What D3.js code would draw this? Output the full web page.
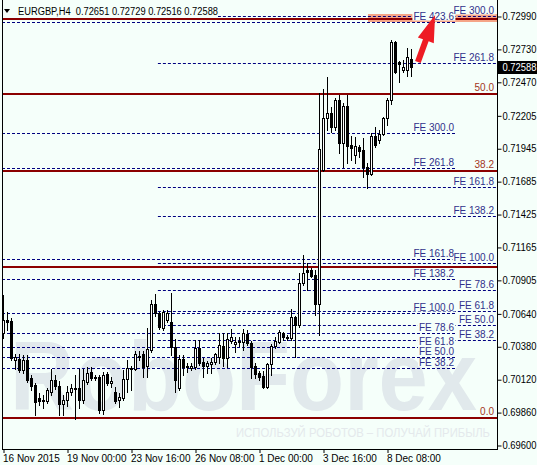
<!DOCTYPE html>
<html><head><meta charset="utf-8">
<script src="https://cdn.jsdelivr.net/npm/d3@7"></script>
<style>
html,body{margin:0;padding:0;background:#f5fffa;}
svg{display:block;}
text{font-family:"Liberation Sans",Arial,sans-serif;}
</style></head><body>
<svg id="c" width="537" height="465"></svg>
<script>
// ---------- data ----------
const symbol = "EURGBP,H4";
const lastOHLC = [0.72651, 0.72729, 0.72516, 0.72588];

const open = [0.70485,0.70588,0.70580,0.70272,0.70280,0.70193,0.70272,0.70129,0.70074,0.69971,
0.69948,0.69948,0.70019,0.70114,0.70066,0.69924,0.69956,0.70019,0.70050,0.70050,
0.69956,0.70098,0.70177,0.70137,0.70137,0.69877,0.70161,0.70090,0.70019,0.69956,
0.69971,0.70122,0.70209,0.70201,0.70303,0.70319,0.70224,0.70351,0.70714,0.70643,
0.70525,0.70588,0.70572,0.70374,0.70050,0.70280,0.70224,0.70209,0.70216,0.70367,
0.70256,0.70224,0.70240,0.70256,0.70295,0.70382,0.70288,0.70422,0.70398,0.70422,
0.70414,0.70477,0.70406,0.70224,0.70169,0.70145,0.70058,0.70240,0.70382,0.70414,
0.70485,0.70453,0.70446,0.70612,0.70548,0.70880,0.70983,0.70983,0.70943,0.70714,
0.71773,0.72184,0.72224,0.72113,0.72326,0.71986,0.72279,0.71971,0.71892,0.71955,
0.71931,0.71797,0.71742,0.72042,0.72010,0.72058,0.72184,0.72326,0.72785,0.72627,
0.72563,0.72563,0.72651];
const high = [0.70785,0.70651,0.70604,0.70319,0.70319,0.70311,0.70311,0.70153,0.70090,0.70011,
0.69995,0.70050,0.70201,0.70153,0.70106,0.69995,0.70066,0.70082,0.70153,0.70201,
0.70201,0.70216,0.70216,0.70153,0.70153,0.70177,0.70177,0.70137,0.70058,0.70011,
0.70193,0.70272,0.70224,0.70343,0.70343,0.70343,0.70525,0.70746,0.70793,0.70651,
0.70667,0.70667,0.70801,0.70438,0.70311,0.70311,0.70248,0.70248,0.70430,0.70430,
0.70288,0.70264,0.70288,0.70327,0.70485,0.70485,0.70485,0.70517,0.70453,0.70453,
0.70517,0.70509,0.70422,0.70248,0.70185,0.70185,0.70248,0.70398,0.70453,0.70509,
0.70493,0.70469,0.70675,0.70619,0.70959,0.71101,0.71038,0.70999,0.70983,0.72382,
0.72413,0.72508,0.72271,0.72342,0.72366,0.72303,0.72366,0.72042,0.72034,0.71971,
0.72026,0.71828,0.72065,0.72113,0.72089,0.72192,0.72342,0.72800,0.72792,0.72634,
0.72642,0.72737,0.72729];
const low = [0.70446,0.70509,0.70272,0.70201,0.70177,0.70169,0.70098,0.70035,0.69837,0.69916,
0.69892,0.69932,0.69995,0.70043,0.69837,0.69837,0.69908,0.69995,0.69806,0.69892,
0.69932,0.70082,0.70114,0.70114,0.69853,0.69845,0.70074,0.70058,0.69932,0.69900,
0.69956,0.70019,0.70035,0.70193,0.70272,0.70137,0.70137,0.70335,0.70619,0.70517,
0.70509,0.70572,0.70311,0.70019,0.70035,0.70153,0.70177,0.70193,0.70201,0.70232,
0.70137,0.70169,0.70169,0.70240,0.70248,0.70224,0.70216,0.70406,0.70335,0.70382,
0.70351,0.70390,0.70129,0.70129,0.70114,0.70050,0.70050,0.70153,0.70367,0.70406,
0.70430,0.70430,0.70430,0.70295,0.70532,0.70864,0.70825,0.70928,0.70627,0.70469,
0.71765,0.72089,0.72073,0.72089,0.71907,0.71797,0.71828,0.71852,0.71828,0.71876,
0.71718,0.71631,0.71734,0.71955,0.71986,0.72050,0.72129,0.72295,0.72540,0.72468,
0.72548,0.72516,0.72516];
const close = [0.70588,0.70572,0.70288,0.70295,0.70193,0.70272,0.70114,0.70066,0.69940,0.69948,
0.69956,0.70035,0.70114,0.70066,0.69924,0.69956,0.70019,0.70050,0.70043,0.69956,
0.70114,0.70169,0.70129,0.70129,0.69877,0.70153,0.70090,0.70106,0.69948,0.69979,
0.70122,0.70209,0.70201,0.70319,0.70295,0.70216,0.70359,0.70714,0.70643,0.70532,
0.70651,0.70643,0.70374,0.70114,0.70280,0.70216,0.70216,0.70224,0.70367,0.70248,
0.70224,0.70248,0.70256,0.70319,0.70390,0.70288,0.70438,0.70453,0.70414,0.70414,
0.70485,0.70406,0.70216,0.70161,0.70137,0.70058,0.70240,0.70382,0.70422,0.70493,
0.70453,0.70446,0.70612,0.70548,0.70880,0.70959,0.70967,0.70935,0.70714,0.71939,
0.72184,0.72224,0.72113,0.72326,0.71986,0.72279,0.71963,0.71947,0.71963,0.71923,
0.71797,0.71742,0.72042,0.71971,0.72058,0.72184,0.72326,0.72785,0.72548,0.72611,
0.72587,0.72666,0.72588];

const yTicks = [0.72990,0.72730,0.72470,0.72205,0.71945,0.71685,0.71425,0.71165,0.70905,0.70640,0.70380,0.70120,0.69860,0.69600];
const xTickBars = [0,16,32,48,64,80,96];
const xTickLabels = ["16 Nov 2015","19 Nov 00:00","23 Nov 16:00","26 Nov 08:00","1 Dec 00:00","3 Dec 16:00","8 Dec 08:00"];

// Fibonacci retracement (red) levels
const fiboLevels = ["0.0","23.6","38.2","50.0","61.8"];
const fiboPrices = [0.69813,0.71010,0.71765,0.72370,0.72966];
const fiboLabelShown = [true,false,true,true,false];

// Fibonacci expansion, first (older) set
const fe1Levels = ["38.2","50.0","61.8","78.6","100.0","138.2","161.8","261.8","300.0","423.6"];
const fe1Prices = [0.70209,0.70295,0.70374,0.70485,0.70643,0.70912,0.71070,0.71789,0.72065,0.72943];
// Fibonacci expansion, second set
const fe2Levels = ["38.2","50.0","61.8","78.6","100.0","138.2","161.8","261.8","300.0"];
const fe2Prices = [0.70430,0.70548,0.70659,0.70825,0.71038,0.71410,0.71639,0.72619,0.72990];

// highlighted target zone and arrow annotation (bar index, price)
const zone = {fromBar: 91.1, top: 0.73006, bottom: 0.72943};
const arrow = {fromBar: 103.6, fromPrice: 0.72627, toBar: 107.9, toPrice: 0.72998};

// ---------- drawing ----------
const W = 537, H = 465;
const L = 2, R = 497, B = 449;
const N = open.length;
const BG = "#f5fffa";
const FONT = '"Liberation Sans",Arial,sans-serif';
const svg = d3.select("#c");

const x = d3.scaleLinear().domain([0, 1]).range([3.5, 7.5]);
const y = d3.scaleLinear().domain([0.69600, 0.72990]).range([445, 16]);
const py = v => Math.round(y(v));

svg.append("rect").attr("width", W).attr("height", H).attr("fill", BG);

svg.append("defs").append("clipPath").attr("id", "plot")
  .append("rect").attr("x", L).attr("y", 0).attr("width", R - L).attr("height", B);

const plot = svg.append("g").attr("clip-path", "url(#plot)");

// watermark
plot.append("text").attr("x", 10).attr("y", 410)
  .attr("font-size", 98).attr("font-weight", "bold")
  .attr("textLength", 467).attr("lengthAdjust", "spacingAndGlyphs")
  .attr("fill", "#e1e9ec").text("RoboForex");
plot.append("text").attr("x", 236).attr("y", 437)
  .attr("font-size", 12).attr("textLength", 254).attr("lengthAdjust", "spacingAndGlyphs")
  .attr("fill", "#e4e9ec").text("ИСПОЛЬЗУЙ РОБОТОВ – ПОЛУЧАЙ ПРИБЫЛЬ");

// highlighted zone
plot.append("rect")
  .attr("x", Math.round(x(zone.fromBar))).attr("y", py(zone.top))
  .attr("width", R - Math.round(x(zone.fromBar))).attr("height", py(zone.bottom) - py(zone.top))
  .attr("fill", "#f5a587");

// red retracement lines
plot.selectAll("line.fibo").data(fiboPrices).join("line")
  .attr("x1", L).attr("x2", R)
  .attr("y1", d => py(d)).attr("y2", d => py(d))
  .attr("stroke", "#8b0000").attr("stroke-width", 2);

// FE dashed lines
const fe1Start = L, fe1End = x(112.9);
const fe2Start = x(38.6), fe2End = R;
function dashed(prices, x1, x2) {
  plot.append("g").selectAll("line").data(prices).join("line")
    .attr("x1", x1).attr("x2", x2)
    .attr("y1", d => py(d) + 0.5).attr("y2", d => py(d) + 0.5)
    .attr("stroke", "#000080").attr("stroke-width", 1).attr("stroke-dasharray", "3,2");
}
dashed(fe1Prices, fe1Start, fe1End);
dashed(fe2Prices, fe2Start, fe2End);

// candles
const cg = plot.append("g");
for (let i = 0; i < N; i++) {
  const cx = x(i);
  cg.append("line").attr("x1", cx).attr("x2", cx)
    .attr("y1", py(high[i])).attr("y2", py(low[i]) + 1)
    .attr("stroke", "#000").attr("stroke-width", 1);
  const t = py(Math.max(open[i], close[i])), b = py(Math.min(open[i], close[i]));
  const bull = close[i] >= open[i];
  if (b - t < 1) {
    cg.append("rect").attr("x", cx - 1.5).attr("y", t).attr("width", 3).attr("height", 1).attr("fill", "#000");
  } else {
    cg.append("rect").attr("x", cx - 1).attr("y", t + 0.5).attr("width", 2).attr("height", b - t)
      .attr("fill", bull ? "#fff" : "#000").attr("stroke", "#000").attr("stroke-width", 1);
  }
}

// labels
const lab = svg.append("g").attr("font-size", 10);
function feLabels(levels, prices, rightX) {
  levels.forEach((lv, i) => {
    const yy = py(prices[i]) - 2;
    const t = lab.append("text").attr("x", rightX).attr("y", yy).attr("text-anchor", "end")
      .attr("fill", "#30308a").text("FE " + lv);
    const bb = t.node().getBBox();
    lab.insert("rect", "text").attr("x", bb.x - 1).attr("y", yy - 8).attr("width", bb.width + 2).attr("height", 8.5)
      .attr("fill", BG);
  });
}
feLabels(fe1Levels, fe1Prices, 454);
feLabels(fe2Levels, fe2Prices, 494);
lab.append("g").selectAll("text").data(fiboLevels.filter((d, i) => fiboLabelShown[i])).join("text")
  .attr("x", 494).attr("text-anchor", "end")
  .attr("y", d => py(fiboPrices[fiboLevels.indexOf(d)]) - 3)
  .attr("fill", "#a3361c").text(d => d);

// arrow
{
  const tx = x(arrow.fromBar), ty = y(arrow.fromPrice), hx = x(arrow.toBar), hy = y(arrow.toPrice);
  const dx = hx - tx, dy = hy - ty, len = Math.hypot(dx, dy);
  const ux = dx / len, uy = dy / len, nx = -uy, ny = ux;
  const hl = 27, hw = 8.5, sw = 3;
  const bx = hx - ux * hl, by = hy - uy * hl;
  const pts = [[tx + nx * sw, ty + ny * sw], [bx + nx * sw, by + ny * sw], [bx + nx * hw, by + ny * hw], [hx, hy],
    [bx - nx * hw, by - ny * hw], [bx - nx * sw, by - ny * sw], [tx - nx * sw, ty - ny * sw]];
  svg.append("path").attr("d", d3.line()(pts) + "Z").attr("fill", "#ee1c24");
}

// frame
svg.append("line").attr("x1", L + 0.5).attr("x2", L + 0.5).attr("y1", 0).attr("y2", B + 1).attr("stroke", "#000");
svg.append("line").attr("x1", L).attr("x2", R + 1).attr("y1", B + 0.5).attr("y2", B + 0.5).attr("stroke", "#000");
svg.append("line").attr("x1", R + 0.5).attr("x2", R + 0.5).attr("y1", 0).attr("y2", B + 1).attr("stroke", "#000");

// y axis
const ya = d3.axisRight(y).tickValues(yTicks).tickFormat(d3.format(".5f")).tickSize(4).tickPadding(1);
const yg = svg.append("g").attr("transform", `translate(${R + 0.5},0.5)`).call(ya);
yg.select(".domain").remove();
yg.selectAll("text").attr("font-family", FONT).attr("font-size", 10).attr("fill", "#000")
  .attr("textLength", 34).attr("lengthAdjust", "spacingAndGlyphs");

// current price box
{
  const cy = y(lastOHLC[3]);
  svg.append("rect").attr("x", R + 1).attr("y", Math.round(cy) - 6).attr("width", W - R - 1).attr("height", 13).attr("fill", "#000");
  svg.append("text").attr("x", R + 5.5).attr("y", Math.round(cy) + 4).attr("font-size", 10).attr("fill", "#fff")
    .attr("textLength", 34).attr("lengthAdjust", "spacingAndGlyphs")
    .text(d3.format(".5f")(lastOHLC[3]));
}

// x axis
const xa = d3.axisBottom(x).tickValues(xTickBars).tickFormat((d, i) => xTickLabels[i]).tickSize(4).tickPadding(2);
const xg = svg.append("g").attr("transform", `translate(0,${B})`).call(xa);
xg.select(".domain").remove();
xg.selectAll("text").attr("font-family", FONT).attr("font-size", 10)
  .attr("fill", "#000").attr("text-anchor", "start").attr("dx", -1);

// title
svg.append("rect").attr("x", 3).attr("y", 3).attr("width", 215).attr("height", 14).attr("fill", BG);
svg.append("path").attr("d", "M4,9L10,9L7,13Z").attr("fill", "#000");
svg.append("text").attr("x", 18).attr("y", 15).attr("font-size", 10).attr("fill", "#000")
  .attr("xml:space", "preserve").attr("textLength", 200).attr("lengthAdjust", "spacingAndGlyphs")
  .text(symbol + "  " + lastOHLC.map(d3.format(".5f")).join(" "));
</script>
</body></html>
